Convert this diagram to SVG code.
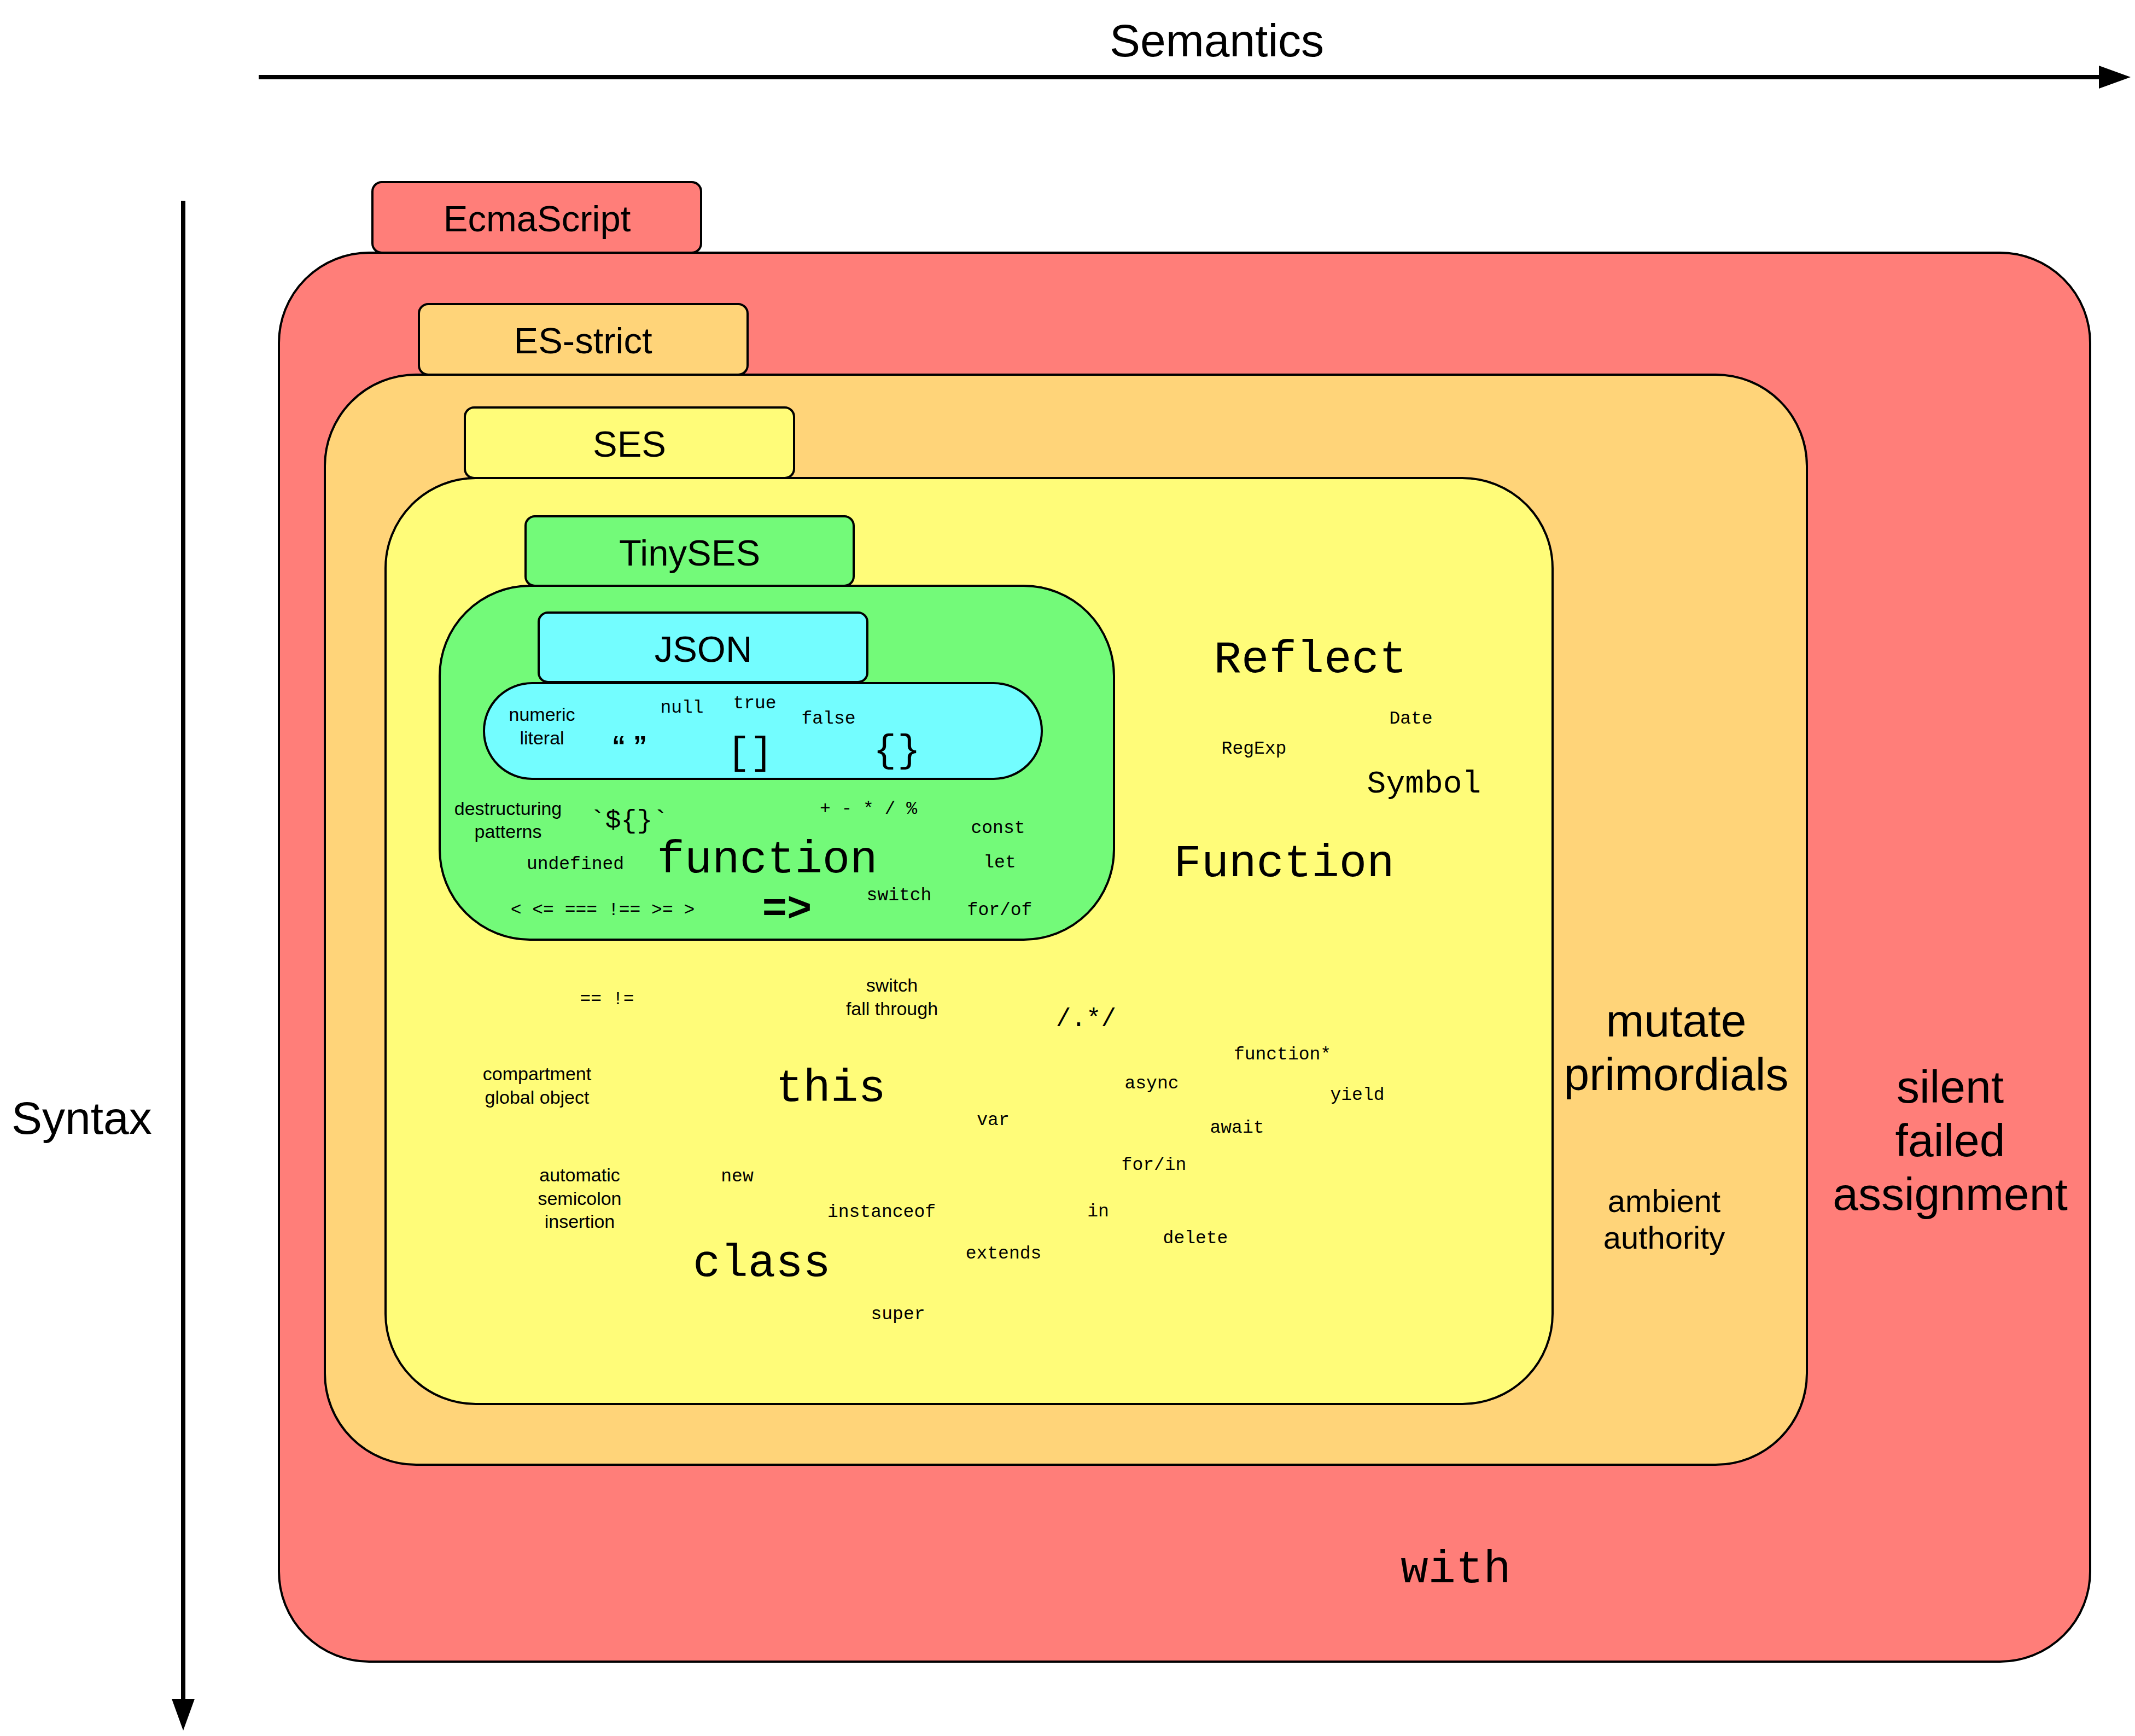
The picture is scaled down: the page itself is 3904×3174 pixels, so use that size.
<svg xmlns="http://www.w3.org/2000/svg" width="3904" height="3174" viewBox="0 0 3904 3174">
  <defs>
    <style>
      .box { stroke: #000; stroke-width: 4; }
      .tab { stroke: #000; stroke-width: 4; }
      .red { fill: #FF7E79; }
      .orange { fill: #FFD479; }
      .yellow { fill: #FFFC79; }
      .green { fill: #73FA79; }
      .cyan { fill: #73FDFF; }
      .sans { font-family: "Liberation Sans", Arial, Helvetica, sans-serif; fill: #000; }
      .mono { font-family: "Liberation Mono", "Courier New", Courier, monospace; fill: #000; }
      .c { text-anchor: middle; }
      .t67 { font-size: 67px; }
      .t84 { font-size: 84px; }
      .t58 { font-size: 58px; }
      .t34 { font-size: 34px; }
      .t33 { font-size: 33px; }
      .axis { stroke: #000; stroke-width: 8; fill: none; }
    </style>
    <marker id="head" markerUnits="userSpaceOnUse" markerWidth="58" markerHeight="42" refX="0" refY="21" orient="auto">
      <path d="M0,0 L58,21 L0,42 Z" fill="#000"/>
    </marker>
  </defs>

  <rect width="3904" height="3174" fill="#fff"/>

  <!-- axes -->
  <g id="connectors">
    <line class="axis" x1="473" y1="141" x2="3838" y2="141" marker-end="url(#head)"/>
    <line class="axis" x1="335" y1="367" x2="335" y2="3106" marker-end="url(#head)"/>
  </g>
  <text class="sans t84 c" x="2225" y="103">Semantics</text>
  <text class="sans t84" x="21" y="2073">Syntax</text>

  <!-- EcmaScript -->
  <g id="ecmascript">
    <rect class="box red" x="510" y="462" width="3312" height="2576" rx="165" ry="165"/>
    <rect class="tab red" x="681" y="333" width="601" height="129" rx="17" ry="17"/>
    <text class="sans t67 c" x="982" y="423">EcmaScript</text>
    <text class="sans t84 c" x="3566" y="2016">silent</text>
    <text class="sans t84 c" x="3566" y="2114">failed</text>
    <text class="sans t84 c" x="3566" y="2212">assignment</text>
    <text class="mono t84 c" x="2662" y="2893">with</text>
  </g>

  <!-- ES-strict -->
  <g id="es-strict">
    <rect class="box orange" x="594" y="685" width="2710" height="1993" rx="167" ry="167"/>
    <rect class="tab orange" x="766" y="556" width="601" height="129" rx="17" ry="17"/>
    <text class="sans t67 c" x="1066" y="646">ES-strict</text>
    <text class="sans t84 c" x="3065" y="1895">mutate</text>
    <text class="sans t84 c" x="3065" y="1993">primordials</text>
    <text class="sans t58 c" x="3043" y="2216">ambient</text>
    <text class="sans t58 c" x="3043" y="2283">authority</text>
  </g>

  <!-- SES -->
  <g id="ses">
    <rect class="box yellow" x="705" y="874" width="2134" height="1693" rx="165" ry="165"/>
    <rect class="tab yellow" x="850" y="745" width="602" height="129" rx="17" ry="17"/>
    <text class="sans t67 c" x="1151" y="835">SES</text>

    <text class="mono t84 c" x="2396" y="1229">Reflect</text>
    <text class="mono t33 c" x="2580" y="1323">Date</text>
    <text class="mono t33 c" x="2293" y="1378">RegExp</text>
    <text class="mono c" style="font-size:58px" x="2604" y="1449">Symbol</text>
    <text class="mono t84 c" x="2348" y="1602">Function</text>

    <text class="mono t33 c" x="1110" y="1836">== !=</text>
    <text class="sans t34 c" x="1631" y="1813">switch</text>
    <text class="sans t34 c" x="1631" y="1856">fall through</text>
    <text class="mono c" style="font-size:46px" x="1986" y="1876">/.*/</text>
    <text class="mono t33 c" x="2345" y="1937">function*</text>

    <text class="sans t34 c" x="982" y="1975">compartment</text>
    <text class="sans t34 c" x="982" y="2018">global object</text>
    <text class="mono t84 c" x="1519" y="2013">this</text>
    <text class="mono t33 c" x="2106" y="1990">async</text>
    <text class="mono t33 c" x="2482" y="2011">yield</text>
    <text class="mono t33 c" x="1816" y="2057">var</text>
    <text class="mono t33 c" x="2262" y="2071">await</text>
    <text class="mono t33 c" x="2110" y="2139">for/in</text>

    <text class="sans t34 c" x="1060" y="2160">automatic</text>
    <text class="sans t34 c" x="1060" y="2203">semicolon</text>
    <text class="sans t34 c" x="1060" y="2245">insertion</text>
    <text class="mono t33 c" x="1348" y="2160">new</text>
    <text class="mono t33 c" x="1612" y="2225">instanceof</text>
    <text class="mono t33 c" x="2008" y="2224">in</text>
    <text class="mono t33 c" x="2186" y="2273">delete</text>
    <text class="mono t84 c" x="1393" y="2333">class</text>
    <text class="mono t33 c" x="1835" y="2301">extends</text>
    <text class="mono t33 c" x="1642" y="2412">super</text>
  </g>

  <!-- TinySES -->
  <g id="tinyses">
    <rect class="box green" x="804" y="1071" width="1233" height="647" rx="165" ry="165"/>
    <rect class="tab green" x="961" y="944" width="600" height="127" rx="17" ry="17"/>
    <text class="sans t67 c" x="1261" y="1034">TinySES</text>

    <text class="sans t34 c" x="929" y="1490">destructuring</text>
    <text class="sans t34 c" x="929" y="1532">patterns</text>
    <text class="mono c" style="font-size:48px" x="1150" y="1514">`${}`</text>
    <text class="mono t33 c" x="1588" y="1488">+ - * / %</text>
    <text class="mono t33 c" x="1825" y="1523">const</text>
    <text class="mono t33 c" x="1052" y="1589">undefined</text>
    <text class="mono t84 c" x="1403" y="1595">function</text>
    <text class="mono t33 c" x="1828" y="1586">let</text>
    <text class="mono t33 c" x="1102" y="1673">&lt; &lt;= === !== &gt;= &gt;</text>
    <text class="mono c" style="font-size:76px;font-weight:bold" x="1439" y="1684">=&gt;</text>
    <text class="mono t33 c" x="1644" y="1646">switch</text>
    <text class="mono t33 c" x="1828" y="1673">for/of</text>
  </g>

  <!-- JSON -->
  <g id="json">
    <rect class="box cyan" x="885" y="1249" width="1020" height="175" rx="88" ry="87"/>
    <rect class="tab cyan" x="985" y="1120" width="601" height="127" rx="17" ry="17"/>
    <text class="sans t67 c" x="1286" y="1210">JSON</text>

    <text class="sans t34 c" x="991" y="1318">numeric</text>
    <text class="sans t34 c" x="991" y="1361">literal</text>
    <text class="sans c" style="font-size:50px;font-weight:bold" x="1151" y="1381">“ ”</text>
    <text class="mono t33 c" x="1247" y="1303">null</text>
    <text class="mono t33 c" x="1380" y="1295">true</text>
    <text class="mono t33 c" x="1515" y="1323">false</text>
    <text class="mono c" style="font-size:70px;letter-spacing:-21px" x="1361" y="1396">[ ]</text>
    <text class="mono c" style="font-size:70px;letter-spacing:-20px" x="1630" y="1392">{ }</text>
  </g>
</svg>
